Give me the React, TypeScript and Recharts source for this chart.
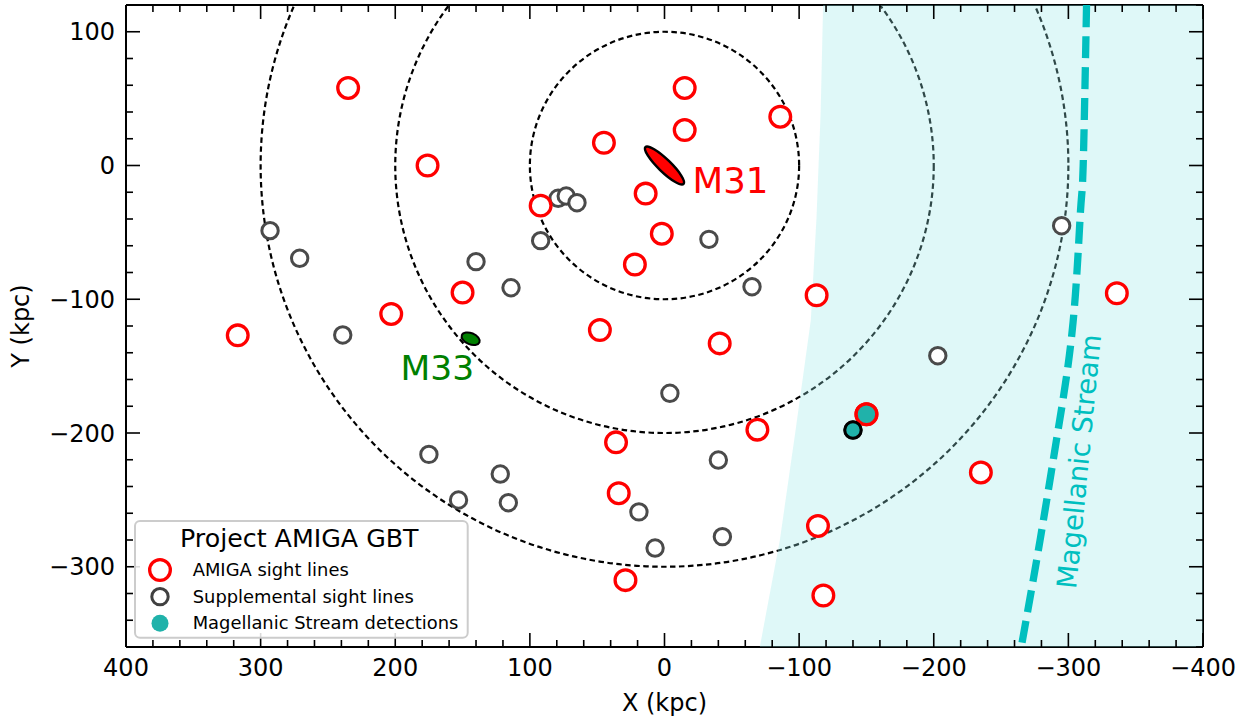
import React from 'react';
import { ComposedChart, Scatter, XAxis, YAxis, Legend, Curve } from 'recharts';

const FONT = '"DejaVu Sans", Verdana, sans-serif';

// ---------- data ----------
const amigaSightLines = [
  { x: 235, y: 58 }, { x: 176, y: 0 }, { x: 317, y: -127 }, { x: 203, y: -111 },
  { x: -15, y: 58 }, { x: -15, y: 26.5 }, { x: -86, y: 36.5 }, { x: 45, y: 17 },
  { x: 14, y: -21 }, { x: 92, y: -30 }, { x: 2, y: -51 }, { x: 22, y: -74 },
  { x: 150, y: -95 }, { x: 48, y: -123 }, { x: -41, y: -133 }, { x: -113, y: -97 },
  { x: 36, y: -207 }, { x: 34, y: -245 }, { x: 29, y: -310 }, { x: -69, y: -197.5 },
  { x: -114, y: -269.5 }, { x: -118, y: -321.5 }, { x: -150, y: -186 }, { x: -235, y: -229.5 },
  { x: -336, y: -95.5 },
];

const supplementalSightLines = [
  { x: 293, y: -48.7 }, { x: 271, y: -69.4 }, { x: 239, y: -126.7 }, { x: 79, y: -24.5 },
  { x: 73, y: -22.8 }, { x: 65, y: -27.8 }, { x: 92, y: -56.2 }, { x: 140, y: -71.9 },
  { x: 114, y: -91.4 }, { x: -33, y: -55.2 }, { x: -65, y: -90.6 }, { x: -4, y: -170.3 },
  { x: -40, y: -220.2 }, { x: 175, y: -216 }, { x: 122, y: -230.7 }, { x: 153, y: -250.1 },
  { x: 116, y: -252.1 }, { x: 19, y: -259 }, { x: 7, y: -286 }, { x: -43, y: -277.5 },
  { x: -203, y: -142.2 }, { x: -140, y: -197.8 }, { x: -295, y: -45 },
];

const streamDetections = [
  { x: -150, y: -186, source: 'amiga' },
  { x: -140, y: -197.8, source: 'supplemental' },
];

const galaxies = [
  { name: 'M31', x: 0, y: 0 },
  { name: 'M33', x: 144, y: -129.5 },
];

const ringRadii = [100, 200, 300];

// left edge of the shaded Magellanic Stream region
const streamRegionEdge = [
  { x: -117.8, y: 120 }, { x: -116, y: 40 }, { x: -112.9, y: -39.3 }, { x: -108.7, y: -115.5 },
  { x: -97.6, y: -196.3 }, { x: -85.7, y: -280 }, { x: -70.8, y: -360 },
];
const streamRegionCorners = [{ x: -400, y: -360 }, { x: -400, y: 120 }];

const streamTrack = [
  { x: -313.5, y: 120 }, { x: -311, y: 0 }, { x: -309, y: -34 }, { x: -303.5, y: -117 },
  { x: -292, y: -200 }, { x: -279, y: -280 }, { x: -265, y: -360 },
];
const streamLabelAnchor = [{ x: -315, y: -222 }];

const xTicks = Array.from({ length: 41 }, (_, i) => -400 + i * 20);
const yTicks = Array.from({ length: 25 }, (_, i) => -360 + i * 20);

const legendItems = [
  { label: 'AMIGA sight lines', kind: 'amiga' },
  { label: 'Supplemental sight lines', kind: 'supplemental' },
  { label: 'Magellanic Stream detections', kind: 'detection' },
];

// ---------- styles ----------
const RED = '#ff0000';
const GRAY = '#404040';
const CYAN_FILL = '#20b2aa';
const STREAM = '#00bfbf';

const galaxyStyle: Record<string, any> = {
  M31: { rx: 26.5, ry: 6.3, angle: 44, fill: RED, sw: 2.5, color: RED, dx: 28, dy: 27, anchor: 'start', size: 35.5 },
  M33: { rx: 9.5, ry: 5.6, angle: 22, fill: '#008000', sw: 2, color: '#008000', dx: 3.5, dy: 41.5, anchor: 'end', size: 34.5 },
};

const fmt = (v: number) => (v < 0 ? `\u2212${Math.abs(v)}` : `${v}`);
const isMajor = (v: number) => Math.abs(v % 100) < 1e-9;

const BottomTick = (p: any) => {
  const { x, y, payload } = p;
  const v = payload.value;
  const m = isMajor(v);
  return (
    <g>
      <line x1={x} x2={x} y1={y} y2={y - (m ? 14 : 7)} stroke="#000" strokeWidth={1.6} />
      {m && (
        <text x={x} y={y + 29} textAnchor="middle" fontSize={24} fontFamily={FONT} fill="#000">
          {fmt(v)}
        </text>
      )}
    </g>
  );
};
const TopTick = (p: any) => {
  const { x, y, payload } = p;
  const m = isMajor(payload.value);
  return <line x1={x} x2={x} y1={y} y2={y + (m ? 14 : 7)} stroke="#000" strokeWidth={1.6} />;
};
const LeftTick = (p: any) => {
  const { x, y, payload } = p;
  const v = payload.value;
  const m = isMajor(v);
  return (
    <g>
      <line x1={x} x2={x + (m ? 14 : 7)} y1={y} y2={y} stroke="#000" strokeWidth={1.6} />
      {m && (
        <text x={x - 11} y={y + 8.7} textAnchor="end" fontSize={24} fontFamily={FONT} fill="#000">
          {fmt(v)}
        </text>
      )}
    </g>
  );
};
const RightTick = (p: any) => {
  const { x, y, payload } = p;
  const m = isMajor(payload.value);
  return <line x1={x} x2={x - (m ? 14 : 7)} y1={y} y2={y} stroke="#000" strokeWidth={1.6} />;
};

const noDot = () => <g />;

const ringLine = (p: any) => {
  const pts = p.points || [];
  if (pts.length < 3) return <g />;
  const cx = pts[0].x;
  const cy = pts[0].y;
  const rx = Math.abs(pts[1].x - cx);
  const ry = Math.abs(pts[2].y - cy);
  return (
    <ellipse cx={cx} cy={cy} rx={rx} ry={ry} fill="none" stroke="#000" strokeWidth={2.2} strokeDasharray="5.5 3.5" />
  );
};

const shadeLine = (p: any) => {
  const pts = p.points || [];
  return (
    <polygon
      points={pts.map((q: any) => `${q.x},${q.y}`).join(' ')}
      fill="#98e8e8"
      fillOpacity={0.31}
      stroke="none"
    />
  );
};

const streamLine = (p: any) => (
  <Curve
    type="natural"
    points={p.points}
    fill="none"
    stroke={STREAM}
    strokeWidth={7.3}
    strokeDasharray="22 9"
  />
);

const streamLabel = (p: any) => {
  const { cx, cy } = p;
  return (
    <text
      x={cx}
      y={cy}
      textAnchor="middle"
      fontSize={27.5}
      fontFamily={FONT}
      fill={STREAM}
      transform={`rotate(-84.4 ${cx} ${cy})`}
    >
      Magellanic Stream
    </text>
  );
};

const amigaShape = (p: any) => (
  <circle cx={p.cx} cy={p.cy} r={10.35} fill="#fff" stroke={RED} strokeWidth={3.3} />
);
const suppShape = (p: any) => (
  <circle cx={p.cx} cy={p.cy} r={8.2} fill="#fff" stroke={GRAY} strokeWidth={3} strokeOpacity={0.95} />
);
const detectionShape = (p: any) => {
  const amiga = p.payload && p.payload.source === 'amiga';
  return (
    <circle
      cx={p.cx}
      cy={p.cy}
      r={amiga ? 10.35 : 8.2}
      fill={CYAN_FILL}
      stroke={amiga ? RED : '#000'}
      strokeWidth={amiga ? 3.3 : 3}
    />
  );
};

const galaxyShape = (p: any) => {
  const { cx, cy, payload } = p;
  const s = galaxyStyle[payload.name];
  return (
    <g>
      <ellipse
        cx={cx}
        cy={cy}
        rx={s.rx}
        ry={s.ry}
        fill={s.fill}
        stroke="#000"
        strokeWidth={s.sw}
        transform={`rotate(${s.angle} ${cx} ${cy})`}
      />
      <text x={cx + s.dx} y={cy + s.dy} textAnchor={s.anchor} fontSize={s.size} fontFamily={FONT} fill={s.color}>
        {payload.name}
      </text>
    </g>
  );
};

const legendMarker = (kind: string, cx: number, cy: number) => {
  if (kind === 'amiga') return <circle cx={cx} cy={cy} r={10.35} fill="#fff" stroke={RED} strokeWidth={3.3} />;
  if (kind === 'supplemental') return <circle cx={cx} cy={cy} r={8.2} fill="#fff" stroke={GRAY} strokeWidth={3} />;
  return <circle cx={cx} cy={cy} r={8.5} fill={CYAN_FILL} />;
};

const renderLegend = () => (
  <svg width={336} height={120} style={{ display: 'block', overflow: 'visible' }}>
    <rect x={1} y={1} width={332.7} height={116.7} rx={5} fill="#fff" fillOpacity={0.85} stroke="#cccccc" strokeWidth={2} />
    <text x={46} y={26.7} fontSize={25.3} fontFamily={FONT} fill="#000">
      Project AMIGA GBT
    </text>
    {legendItems.map((it, i) => {
      const cy = 50 + i * 26.65;
      return (
        <g key={it.kind}>
          {legendMarker(it.kind, 26, cy)}
          <text x={58.7} y={cy + 5.9} fontSize={17.9} fontFamily={FONT} fill="#000">
            {it.label}
          </text>
        </g>
      );
    })}
  </svg>
);

const xLabel = (p: any) => {
  const vb = p.viewBox || { x: 126, y: 647, width: 1077, height: 72 };
  return (
    <text x={vb.x + vb.width / 2} y={vb.y + 64} textAnchor="middle" fontSize={24} fontFamily={FONT} fill="#000">
      X (kpc)
    </text>
  );
};
const yLabel = (p: any) => {
  const vb = p.viewBox || { x: 0, y: 5, width: 126, height: 642 };
  const cx = 29;
  const cy = vb.y + vb.height / 2;
  return (
    <text x={cx} y={cy} textAnchor="middle" fontSize={24} fontFamily={FONT} fill="#000" transform={`rotate(-90 ${cx} ${cy})`}>
      Y (kpc)
    </text>
  );
};

export default function App() {
  const axisLine = { stroke: '#000', strokeWidth: 2 };
  const common = { xAxisId: 'b', yAxisId: 'l', isAnimationActive: false, legendType: 'none' as const };
  return (
    <div style={{ position: 'absolute', left: 0, top: 0, width: 1255, height: 719, background: '#fff', fontFamily: FONT }}>
      <ComposedChart width={1255} height={719} margin={{ top: 0, right: 0, bottom: 0, left: 0 }}>
        {/* rings */}
        {ringRadii.map((r) => (
          <Scatter
            key={`ring${r}`}
            {...common}
            name={`ring${r}`}
            data={[{ x: 0, y: 0 }, { x: r, y: 0 }, { x: 0, y: -r }]}
            shape={noDot}
            line={ringLine}
            lineType="joint"
          />
        ))}
        {/* shaded Magellanic Stream region */}
        <Scatter
          {...common}
          name="streamRegion"
          data={[...streamRegionEdge, ...streamRegionCorners]}
          shape={noDot}
          line={shadeLine}
          lineType="joint"
        />
        <Scatter {...common} name="streamTrack" data={streamTrack} shape={noDot} line={streamLine} lineType="joint" />
        <Scatter {...common} name="streamLabel" data={streamLabelAnchor} shape={streamLabel} />
        <Scatter {...common} name="Supplemental sight lines" data={supplementalSightLines} shape={suppShape} />
        <Scatter {...common} name="AMIGA sight lines" data={amigaSightLines} shape={amigaShape} />
        <Scatter {...common} name="Magellanic Stream detections" data={streamDetections} shape={detectionShape} />
        <Scatter {...common} name="galaxies" data={galaxies} shape={galaxyShape} />

        <XAxis
          xAxisId="b"
          type="number"
          dataKey="x"
          domain={[-400, 400]}
          reversed
          allowDataOverflow
          ticks={xTicks}
          interval={0}
          height={72}
          tickSize={0}
          tickMargin={0}
          tickLine={false}
          axisLine={axisLine}
          tick={BottomTick}
          label={{ content: xLabel }}
        />
        <XAxis
          xAxisId="t"
          orientation="top"
          type="number"
          dataKey="x"
          domain={[-400, 400]}
          reversed
          allowDataOverflow
          ticks={xTicks}
          interval={0}
          height={5}
          tickSize={0}
          tickMargin={0}
          tickLine={false}
          axisLine={axisLine}
          tick={TopTick}
        />
        <YAxis
          yAxisId="l"
          type="number"
          dataKey="y"
          domain={[-360, 120]}
          allowDataOverflow
          ticks={yTicks}
          interval={0}
          width={126}
          tickSize={0}
          tickMargin={0}
          tickLine={false}
          axisLine={axisLine}
          tick={LeftTick}
          label={{ content: yLabel }}
        />
        <YAxis
          yAxisId="r"
          orientation="right"
          type="number"
          dataKey="y"
          domain={[-360, 120]}
          allowDataOverflow
          ticks={yTicks}
          interval={0}
          width={52}
          tickSize={0}
          tickMargin={0}
          tickLine={false}
          axisLine={axisLine}
          tick={RightTick}
        />
        <Legend
          layout="vertical"
          align="center"
          verticalAlign="middle"
          content={renderLegend}
          wrapperStyle={{ left: 134, top: 520, width: 336, height: 120 }}
        />
      </ComposedChart>
    </div>
  );
}
